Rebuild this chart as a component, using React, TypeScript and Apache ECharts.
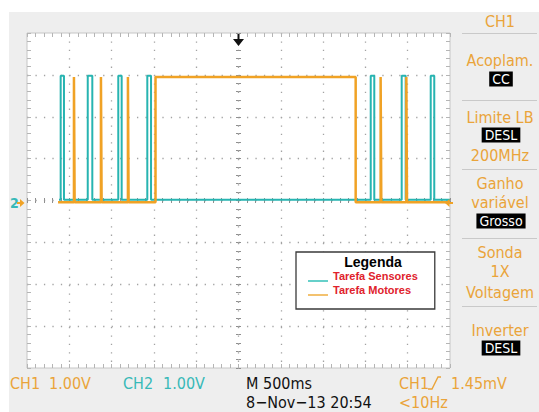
import React, { useEffect, useRef } from 'react';
import * as echarts from 'echarts';

// Time in ms relative to trigger (M 500ms/div, 10 divisions), levels in volts (1.00V/div)
const sensorTimes = [-2122, -2102, -2063, -1782, -1728, -1421, -1381, -1078, -1034, 1563, 1605, 1929, 1976, 2272, 2314, 2500];
const sensorLevels = [0.02, 2.98, 0.02, 2.98, 0.02, 2.98, 0.02, 2.98, 0.02, 2.98, 0.02, 2.98, 0.02, 2.98, 0.02, 0.02];
const motorTimes = [-2133, -1945, -1937, -1626, -1618, -1307, -1299, -981, 1385, 1680, 1688, 1984, 1992, 2500];
const motorLevels = [-0.04, 2.95, -0.04, 2.95, -0.04, 2.95, -0.04, 2.95, -0.04, 2.95, -0.04, 2.95, -0.04, -0.04];
const seriesNames = ['Tarefa Sensores', 'Tarefa Motores'];
const timeRange = [-2500, 2500];
const timeDiv = 500;
const voltRange = [-4, 4];
const voltDiv = 1;

const panelTexts = [
  { t: 'CH1', y: 21 },
  { t: 'Acoplam.', y: 60 },
  { t: 'CC', y: 79, box: true },
  { t: 'Limite LB', y: 117 },
  { t: 'DESL', y: 135, box: true },
  { t: '200MHz', y: 155 },
  { t: 'Ganho', y: 183 },
  { t: 'variável', y: 202 },
  { t: 'Grosso', y: 221, box: true },
  { t: 'Sonda', y: 252 },
  { t: '1X', y: 271 },
  { t: 'Voltagem', y: 292 },
  { t: 'Inverter', y: 330 },
  { t: 'DESL', y: 348, box: true },
];
const panelSeparators = [33, 100, 169, 238, 306];

const TEAL = '#27b4b1';
const ORANGE = '#f0a225';
const TXT_ORANGE = '#eaa43a';
const TXT_TEAL = '#37b9b8';
const FONT = "'Liberation Sans Narrow', 'DejaVu Sans Condensed', 'Arial Narrow', sans-serif";

const GRID = { left: 27, top: 33, width: 423, height: 335 };

export default function App() {
  const ref = useRef<HTMLDivElement>(null);
  useEffect(() => {
    if (!ref.current) return;
    const chart = echarts.init(ref.current, undefined, { renderer: 'svg' });
    const tickColor = '#b5b5b5';
    const centerTick = '#8f8f8f';
    const xBase: any = {
      type: 'value', min: timeRange[0], max: timeRange[1], interval: timeDiv,
      axisLabel: { show: false }, splitLine: { show: false },
      axisLine: { show: false, onZero: false },
    };
    const yBase: any = {
      type: 'value', min: voltRange[0], max: voltRange[1], interval: voltDiv,
      axisLabel: { show: false }, splitLine: { show: false },
      axisLine: { show: false, onZero: false },
    };
    const tick = (inside: boolean, len: number, color: string) => ({
      axisTick: { show: true, inside, length: len, lineStyle: { color, width: 1 } },
      minorTick: { show: true, splitNumber: 5, length: len, lineStyle: { color, width: 1 } },
    });
    const xCenterOffset = -GRID.height / 2;
    const yCenterOffset = -GRID.width / 2;

    const txt = (text: string, x: number, y: number, fill: string, size = 16, align = 'left', extra: any = {}) => ({
      type: 'text', x, y, z: 100,
      style: {
        text, fill, fontSize: size, fontFamily: FONT,
        align, textAlign: align, verticalAlign: 'middle', textVerticalAlign: 'middle', ...extra,
      },
    });

    const graphics: any[] = [
      { type: 'rect', shape: { x: 0, y: 0, width: 539, height: 12 }, style: { fill: '#ffffff' }, z: 1 },
      { type: 'rect', shape: { x: 0, y: 0, width: 9, height: 412 }, style: { fill: '#ffffff' }, z: 1 },
    ];
    panelSeparators.forEach((y) => {
      graphics.push({ type: 'line', shape: { x1: 462, y1: y + 0.5, x2: 537, y2: y + 0.5 }, style: { stroke: '#c9c9c9', lineWidth: 1 }, z: 100 });
    });
    panelTexts.forEach((p) => {
      if (p.box) {
        graphics.push(txt(p.t, 501, p.y, '#ffffff', 14, 'center', { backgroundColor: '#000000', padding: [1, 3, 0, 3] }));
      } else {
        graphics.push(txt(p.t, 500, p.y, TXT_ORANGE, 16, 'center'));
      }
    });
    graphics.push(
      txt('CH1', 10, 383, TXT_ORANGE),
      txt('1.00V', 49, 383, TXT_ORANGE),
      txt('CH2', 123, 383, TXT_TEAL),
      txt('1.00V', 163, 383, TXT_TEAL),
      txt('M 500ms', 246, 383, '#111111'),
      txt('8\u2212Nov\u221213 20:54', 246, 402, '#111111'),
      txt('CH1', 399, 383, TXT_ORANGE),
      txt('1.45mV', 451, 383, TXT_ORANGE),
      txt('<10Hz', 399, 402, TXT_ORANGE),
      { type: 'polyline', shape: { points: [[428, 389], [432, 389], [438, 377], [441, 377]] }, style: { stroke: TXT_ORANGE, lineWidth: 1.4, fill: 'none' }, z: 100 },
      // trigger position marker (top)
      { type: 'polygon', shape: { points: [[237.5, 34], [239.5, 34], [239.5, 39], [244, 39], [238.5, 46], [233, 39], [237.5, 39]] }, style: { fill: '#111111' }, z: 100 },
      // channel ground marker (left)
      txt('2', 10, 203, TXT_TEAL, 14, 'left', { fontWeight: 'bold' }),
      { type: 'polygon', shape: { points: [[17, 202], [20, 202], [20, 199], [24.5, 203], [20, 207], [20, 204], [17, 204]] }, style: { fill: ORANGE }, z: 100 },
      // trigger level marker (right)
      { type: 'polygon', shape: { points: [[445, 203], [449.5, 199], [449.5, 202], [453, 202], [453, 204], [449.5, 204], [449.5, 207]] }, style: { fill: ORANGE }, z: 100 },
      // legend title
      txt('Legenda', 373, 262, '#000000', 14, 'center', { fontFamily: "'Liberation Sans', Arial, sans-serif", fontWeight: 'bold' }),
    );

    const option: any = {
      animation: false,
      backgroundColor: '#eeeeee',
      grid: { ...GRID, show: true, backgroundColor: '#ffffff', borderColor: '#c6c6c6', borderWidth: 1 },
      xAxis: [
        {
          ...xBase, position: 'bottom', ...tick(true, 4, tickColor),
          splitLine: { show: true, showMinLine: false, showMaxLine: false, lineStyle: { color: '#a3a3a3', width: 1.3, type: [1.3, 7.1] } },
        },
        { ...xBase, position: 'top', ...tick(true, 4, tickColor) },
        { ...xBase, position: 'bottom', offset: xCenterOffset, ...tick(true, 2.5, centerTick) },
        { ...xBase, position: 'bottom', offset: xCenterOffset, ...tick(false, 2.5, centerTick) },
      ],
      yAxis: [
        {
          ...yBase, position: 'left', ...tick(true, 4, tickColor),
          splitLine: { show: true, showMinLine: false, showMaxLine: false, lineStyle: { color: '#a3a3a3', width: 1.3, type: [1.3, 7.16] } },
        },
        { ...yBase, position: 'right', ...tick(true, 4, tickColor) },
        { ...yBase, position: 'left', offset: yCenterOffset, ...tick(true, 2.5, centerTick) },
        { ...yBase, position: 'left', offset: yCenterOffset, ...tick(false, 2.5, centerTick) },
      ],
      legend: {
        left: 296, top: 252, orient: 'vertical', selectedMode: false,
        padding: [18, 17, 13, 12], itemGap: 2, itemWidth: 20, itemHeight: 12,
        backgroundColor: '#ffffff', borderColor: '#3a3a3a', borderWidth: 1.3, borderRadius: 0,
        icon: 'path://M0,0h0.01v0.01h-0.01zM0,10h20v2h-20z',
        itemStyle: { borderWidth: 0 },
        textStyle: { color: '#e0222c', fontWeight: 'bold', fontSize: 11, fontFamily: "'Liberation Sans', Arial, sans-serif" },
        data: [
          { name: seriesNames[0], itemStyle: { color: '#66d0ca' } },
          { name: seriesNames[1], itemStyle: { color: '#f3c26f' } },
        ],
      },
      series: [
        {
          name: seriesNames[0], type: 'line', step: 'end', symbol: 'none',
          data: sensorTimes.map((t, i) => [t, sensorLevels[i]]),
          lineStyle: { color: TEAL, width: 2 }, itemStyle: { color: TEAL }, z: 3,
        },
        {
          name: seriesNames[1], type: 'line', step: 'end', symbol: 'none',
          data: motorTimes.map((t, i) => [t, motorLevels[i]]),
          lineStyle: { color: ORANGE, width: 2.5 }, itemStyle: { color: ORANGE }, z: 4,
        },
      ],
      graphic: graphics,
    };
    chart.setOption(option);
    return () => chart.dispose();
  }, []);
  return <div ref={ref} style={{ position: 'fixed', left: 0, top: 0, width: 539, height: 412 }} />;
}
